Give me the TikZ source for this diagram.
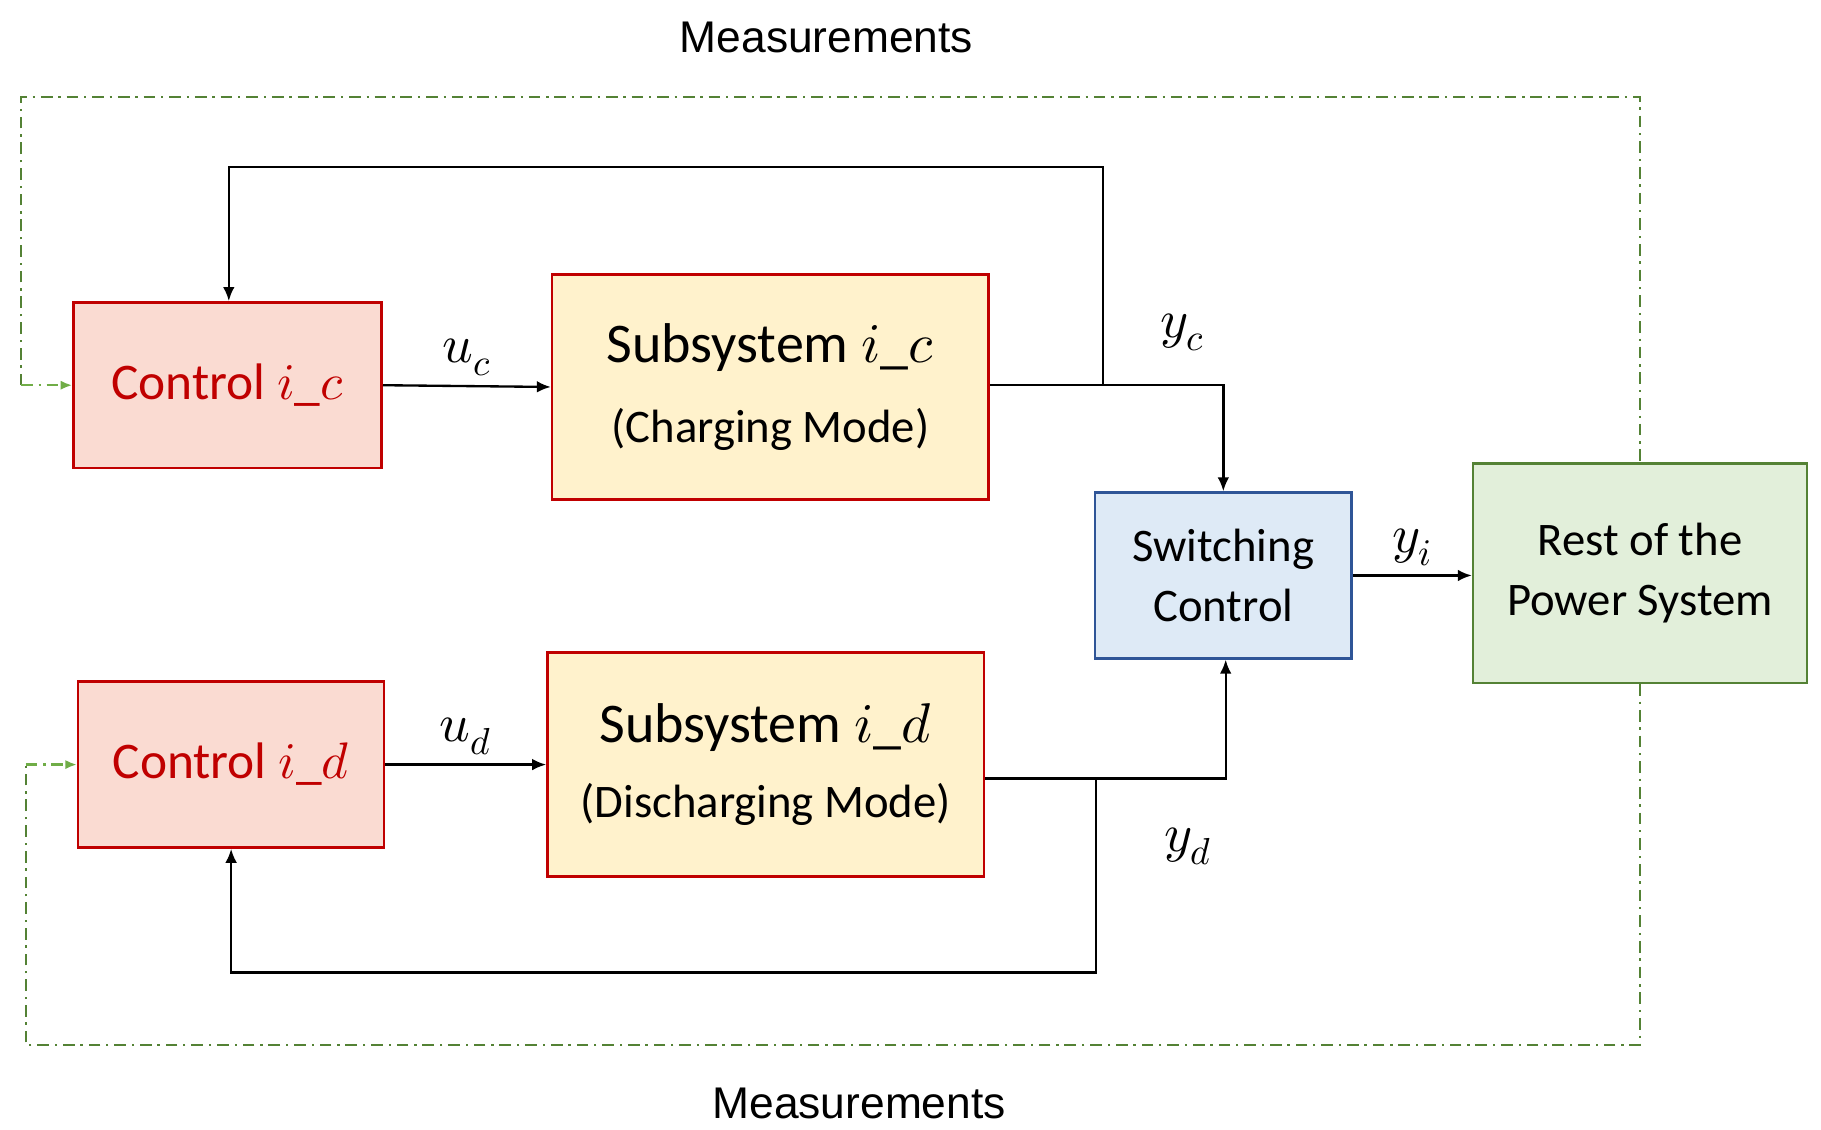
\documentclass[tikz,border=0pt]{standalone}
\usepackage{fontspec}
\usepackage{unicode-math}
\setmainfont{Carlito}
\setmathfont{Latin Modern Math}
\newfontfamily\arialf{Liberation Sans}
\usetikzlibrary{arrows.meta}
\definecolor{redb}{HTML}{C00000}
\definecolor{pinkf}{HTML}{FADBD2}
\definecolor{yelf}{HTML}{FFF2CC}
\definecolor{bluef}{HTML}{DEEAF6}
\definecolor{blueb}{HTML}{2F5597}
\definecolor{greenf}{HTML}{E2EFDA}
\definecolor{greenb}{HTML}{548235}
\definecolor{dgreen}{HTML}{70AD47}
\begin{document}
\begin{tikzpicture}[x=1pt,y=-1pt,
 box/.style={draw,line width=2.2pt,align=center,inner sep=0pt},
 arr/.style={line width=2pt,-{Latex[length=12pt,width=10pt]}},
 ln/.style={line width=2pt},
 meas/.style={draw=greenb,line width=2pt,dash pattern=on 10pt off 5pt on 2pt off 5pt},
 lab/.style={font=\fontsize{46}{50}\selectfont},
]
\useasboundingbox (0,0) rectangle (1560,968);
\node[font=\arialf\fontsize{38}{42}\selectfont] (mt) at (708,32) {Measurements};
\node[font=\arialf\fontsize{38}{42}\selectfont] (mb) at (736,945) {Measurements};

\node[box,draw=redb,fill=pinkf,minimum width=264pt,minimum height=142pt,text=redb,font=\fontsize{44}{48}\selectfont] (ci) at (195,330) {Control $i\_c$};
\node[box,draw=redb,fill=yelf,minimum width=374pt,minimum height=193pt,font=\fontsize{48}{75}\selectfont] (si) at (660,331.5) {Subsystem $i\_c$\\[-6pt]{\fontsize{40}{44}\selectfont (Charging Mode)}};
\node[box,draw=redb,fill=pinkf,minimum width=262pt,minimum height=142pt,text=redb,font=\fontsize{44}{48}\selectfont] (cd) at (198,655) {Control $i\_d$};
\node[box,draw=redb,fill=yelf,minimum width=374pt,minimum height=192pt,font=\fontsize{48}{75}\selectfont] (sd) at (656,655) {Subsystem $i\_d$\\[-10pt]{\fontsize{40}{44}\selectfont (Discharging Mode)}};
\node[box,draw=blueb,fill=bluef,minimum width=220pt,minimum height=142pt,font=\fontsize{40}{52}\selectfont] (sw) at (1048,493) {Switching\\Control};
\node[box,draw=greenb,fill=greenf,minimum width=286pt,minimum height=188pt,font=\fontsize{40}{52}\selectfont] (rp) at (1405,491) {Rest of the\\Power System};

% measurement loops
\coordinate (m1) at (18,330);
\coordinate (m2) at (22,655);
\draw[meas] (m1) -- (18,83) -- (1405,83) -- (rp.north);
\draw[meas] (rp.south) -- (1405,895) -- (22,895) -- (m2);
\draw[meas,-{Latex[length=10pt,width=8pt]},draw=dgreen] (m1) -- (ci.west);
\draw[meas,-{Latex[length=10pt,width=8pt]},draw=dgreen] (m2) -- (cd.west);

% charging path
\draw[arr] (ci.east) -- node[lab,above=4pt]{$u_c$} (si.west);
\coordinate (jc) at (945,330);
\coordinate (jc2) at (1048,330);
\draw[ln] (si.east |- jc) -- (jc);
\draw[arr] (jc) -- (945,143) -- (196,143) -- (ci.north -| 196,0);
\draw[arr] (jc) -- (jc2) -- (sw.north);
\node[lab] (yc) at (1013,285) {$y_c$};

% discharging path
\draw[arr] (cd.east) -- node[lab,above=4pt]{$u_d$} (sd.west);
\coordinate (jd) at (939,667);
\draw[ln] (sd.east |- jd) -- (jd);
\draw[arr] (jd) -- (1050,667) -- (sw.south -| 1050,0);
\draw[arr] (jd) -- (939,833) -- (198,833) -- (cd.south);
\node[lab] (yd) at (1018,725) {$y_d$};

\draw[arr] (sw.east) -- node[lab,above=4pt]{$y_i$} (rp.west |- sw.east);
\end{tikzpicture}
\end{document}
